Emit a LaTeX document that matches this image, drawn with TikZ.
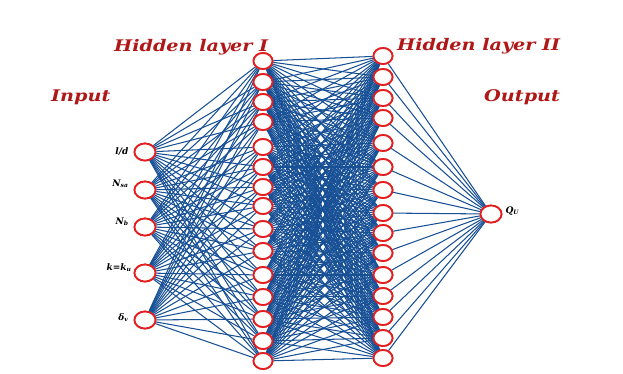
\documentclass[tikz,border=0pt]{standalone}
\usepackage{fontspec}
\newfontfamily\labfont{DejaVu Serif}
\newfontfamily\titlefont[FakeStretch=1.2]{DejaVu Serif}
\usetikzlibrary{shapes.geometric}
\definecolor{netblue}{RGB}{24,80,150}
\definecolor{titlered}{RGB}{176,24,24}
\definecolor{ringred}{RGB}{228,30,30}
\tikzset{
  neuron/.style={ellipse,draw=ringred,line width=1.8pt,fill=white,minimum width=19pt,minimum height=16pt,inner sep=0pt},
  inneuron/.style={neuron,minimum width=21pt,minimum height=17pt},
  link/.style={draw=netblue,line width=1.05pt},
  title/.style={text=titlered,font=\titlefont\bfseries\itshape\fontsize{16}{18}\selectfont,inner sep=0pt},
  varlab/.style={text=black,font=\labfont\bfseries\itshape\fontsize{9}{10}\selectfont}
}
\begin{document}
\begin{tikzpicture}[x=1pt,y=-1pt]
\useasboundingbox (0,0) rectangle (623,373);
% input layer
\foreach \y [count=\i] in {152,190,227,273,320} {
  \node[inneuron] (in\i) at (145,\y) {};
}
% hidden layer I
\foreach \y [count=\i] in {61,82,102,122,147,167,187,206,229,251,275,297,319,341,361} {
  \node[neuron] (ha\i) at (263,\y) {};
}
% hidden layer II
\foreach \y [count=\i] in {56,77,98,118,143,167,190,213,233,253,275,296,317,338,358} {
  \node[neuron] (hb\i) at (383,\y) {};
}
% output
\node[inneuron] (out) at (491,214) {};
% connections
\foreach \i in {1,...,5} \foreach \j in {1,...,15} \draw[link] (in\i) -- (ha\j);
\foreach \i in {1,...,15} \foreach \j in {1,...,15} \draw[link] (ha\i) -- (hb\j);
\foreach \j in {1,...,15} \draw[link] (hb\j) -- (out);
% redraw nodes on top
\foreach \y in {152,190,227,273,320} \node[inneuron] at (145,\y) {};
\foreach \y in {61,82,102,122,147,167,187,206,229,251,275,297,319,341,361} \node[neuron] at (263,\y) {};
\foreach \y in {56,77,98,118,143,167,190,213,233,253,275,296,317,338,358} \node[neuron] at (383,\y) {};
\node[inneuron] at (491,214) {};
% titles
\node[title,anchor=base west] (t1) at (114,51) {Hidden layer I};
\node[title,anchor=base west] (t2) at (397,50) {Hidden layer II};
\node[title,anchor=base west] (t3) at (51,101) {Input};
\node[title,anchor=base west] (t4) at (484,101) {Output};
% variable labels
\node[varlab,anchor=east] (l1) at (132,151) {l/d};
\node[varlab,anchor=east] (l2) at (132,184) {N\textsubscript{sa}};
\node[varlab,anchor=east] (l3) at (132,222) {N\textsubscript{b}};
\node[varlab,anchor=east] (l4) at (135,268) {k=k\textsubscript{u}};
\node[varlab,anchor=east] (l5) at (132,318) {δ\textsubscript{v}};
\node[varlab,anchor=west] (l6) at (502,211) {Q\textsubscript{U}};
\end{tikzpicture}
\end{document}
